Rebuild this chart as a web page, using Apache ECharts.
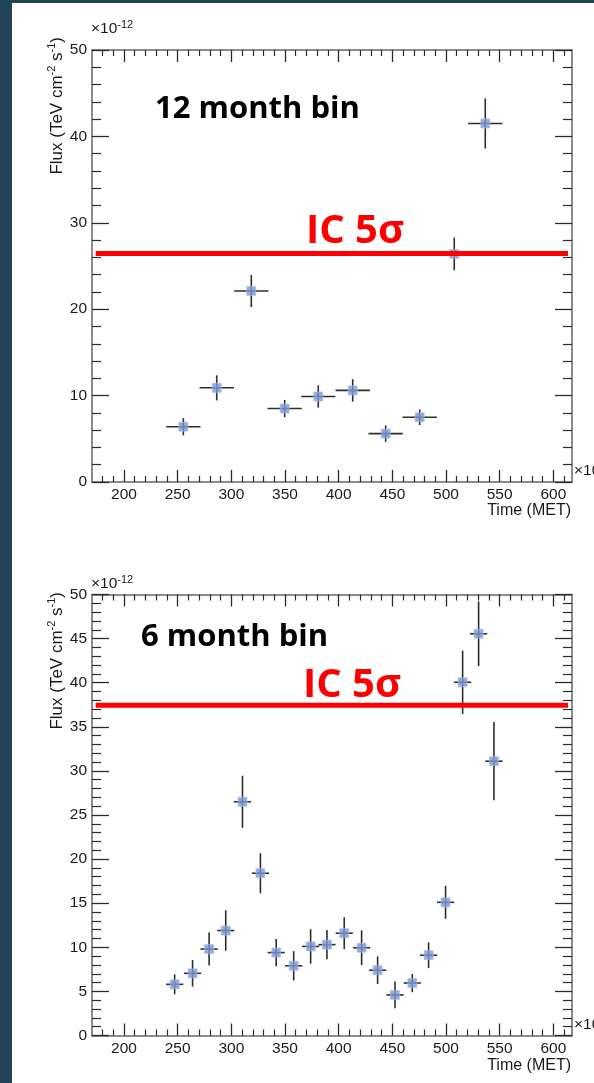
<!DOCTYPE html>
<html>
<head>
<meta charset="utf-8">
<script src="https://cdn.jsdelivr.net/npm/echarts@6/dist/echarts.min.js"></script>
<style>
  html, body { margin: 0; padding: 0; background: #23435a; }
  #sheet { position: absolute; left: 12px; top: 3px; width: 582px; height: 1080px; background: #ffffff; }
  #chart { position: absolute; left: 0; top: 0; width: 594px; height: 1083px; }
</style>
</head>
<body>
<div id="sheet"></div>
<div id="chart"></div>
<script>
// Time axis (MET, units of 1e6 s)
const timeMin = 170.2;
const timeMax = 617.4;
const timeMajorTicks = [200, 250, 300, 350, 400, 450, 500, 550, 600];
const timeMinorTicks = [180, 190, 210, 220, 230, 240, 260, 270, 280, 290, 310, 320, 330, 340,
  360, 370, 380, 390, 410, 420, 430, 440, 460, 470, 480, 490, 510, 520, 530, 540,
  560, 570, 580, 590, 610];

// 12 month binned light curve (flux in units of 1e-12 TeV cm^-2 s^-1)
const yearTime = [255.3, 286.4, 318.6, 349.7, 381.0, 413.1, 443.8, 475.5, 507.7, 536.6];
const yearFlux = [6.4, 10.9, 22.1, 8.5, 9.9, 10.6, 5.6, 7.5, 26.4, 41.5];
const yearFluxErr = [1.0, 1.45, 1.85, 1.0, 1.3, 1.3, 0.95, 0.9, 1.9, 2.9];
const yearHalfBin = 16;

// 6 month binned light curve
const halfTime = [247.2, 263.9, 279.3, 294.8, 310.4, 327.1, 341.8, 358.1, 373.9, 389.1,
  405.2, 421.4, 436.3, 452.5, 468.6, 483.8, 499.6, 515.5, 530.4, 544.7];
const halfFlux = [5.8, 7.05, 9.8, 11.9, 26.5, 18.4, 9.4, 7.9, 10.1, 10.3,
  11.6, 9.95, 7.4, 4.6, 5.95, 9.1, 15.1, 40.05, 45.55, 31.1];
const halfFluxErr = [1.13, 1.5, 1.87, 2.3, 2.95, 2.27, 1.55, 1.66, 1.95, 1.66,
  1.81, 1.98, 1.57, 1.51, 1.04, 1.46, 1.87, 3.59, 3.67, 4.44];
const halfHalfBin = 8;

// IceCube 5 sigma discovery flux for each binning, and the span it is drawn over
const ic5Level = [26.45, 37.44];
const ic5Span = [173.6, 613.7];

const panelTitles = ['12 month bin', '6 month bin'];
const yMax = [50, 50];
const yStep = [10, 5];

const chart = echarts.init(document.getElementById('chart'), null, { renderer: 'canvas' });

const grids = [
  { left: 92, top: 50, width: 480, height: 432, outerBoundsMode: 'none' },
  { left: 92, top: 594.5, width: 480, height: 441, outerBoundsMode: 'none' }
];

const tickColor = '#2b2b2b';
const frameColor = '#666666';
const labelFont = { color: '#1a1a1a', fontFamily: 'Liberation Sans', fontSize: 15.5 };

const xAxes = [];
const yAxes = [];
grids.forEach((g, i) => {
  const base = { gridIndex: i, type: 'value', min: timeMin, max: timeMax, splitLine: { show: false } };
  // bottom, labelled
  xAxes.push(Object.assign({}, base, {
    position: 'bottom',
    axisLine: { show: true, onZero: false, lineStyle: { color: frameColor, width: 1.5 } },
    axisTick: { show: true, inside: true, length: 12, customValues: timeMajorTicks, lineStyle: { color: tickColor, width: 1.3 } },
    axisLabel: Object.assign({ show: true, margin: 5, customValues: timeMajorTicks }, labelFont)
  }));
  xAxes.push(Object.assign({}, base, {
    position: 'bottom',
    axisLine: { show: false, onZero: false },
    axisTick: { show: true, inside: true, length: 6, customValues: timeMinorTicks, lineStyle: { color: tickColor, width: 1.2 } },
    axisLabel: { show: false }
  }));
  // top frame
  xAxes.push(Object.assign({}, base, {
    position: 'top',
    axisLine: { show: true, onZero: false, lineStyle: { color: frameColor, width: 1.5 } },
    axisTick: { show: true, inside: true, length: 12, customValues: timeMajorTicks, lineStyle: { color: tickColor, width: 1.3 } },
    axisLabel: { show: false }
  }));
  xAxes.push(Object.assign({}, base, {
    position: 'top',
    axisLine: { show: false, onZero: false },
    axisTick: { show: true, inside: true, length: 6, customValues: timeMinorTicks, lineStyle: { color: tickColor, width: 1.2 } },
    axisLabel: { show: false }
  }));

  const ybase = {
    gridIndex: i, type: 'value', min: 0, max: yMax[i], interval: yStep[i],
    splitLine: { show: false }, minorSplitLine: { show: false },
    axisLine: { show: true, onZero: false, lineStyle: { color: frameColor, width: 1.5 } },
    axisTick: { show: true, inside: true, length: 17, lineStyle: { color: tickColor, width: 1.3 } },
    minorTick: { show: true, splitNumber: 5, length: 9, lineStyle: { color: tickColor, width: 1.2 } }
  };
  yAxes.push(Object.assign({}, ybase, {
    position: 'left',
    axisLabel: Object.assign({ show: true, margin: 5 }, labelFont)
  }));
  yAxes.push(Object.assign({}, ybase, {
    position: 'right',
    axisLabel: { show: false }
  }));
});

function errorBarItem(params, api) {
  const t = api.value(0), f = api.value(1), e = api.value(2), w = api.value(3);
  const a = api.coord([t - w, f]), b = api.coord([t + w, f]);
  const c = api.coord([t, f - e]), d = api.coord([t, f + e]);
  const st = { stroke: '#2e2e2e', lineWidth: 1.6 };
  return {
    type: 'group',
    children: [
      { type: 'line', shape: { x1: a[0], y1: a[1], x2: b[0], y2: b[1] }, style: st },
      { type: 'line', shape: { x1: c[0], y1: c[1], x2: d[0], y2: d[1] }, style: st }
    ]
  };
}

const curves = [
  { t: yearTime, f: yearFlux, e: yearFluxErr, w: yearHalfBin },
  { t: halfTime, f: halfFlux, e: halfFluxErr, w: halfHalfBin }
];

const series = [];
curves.forEach((c, i) => {
  const xi = i * 4, yi = i * 2;
  series.push({
    type: 'custom', xAxisIndex: xi, yAxisIndex: yi, z: 2,
    renderItem: errorBarItem,
    encode: { x: 0, y: 1 },
    data: c.t.map((t, k) => [t, c.f[k], c.e[k], c.w]),
    silent: true, clip: false
  });
  series.push({
    type: 'scatter', xAxisIndex: xi, yAxisIndex: yi, z: 3,
    symbol: 'rect', symbolSize: 9,
    itemStyle: { color: '#7b99d4', borderColor: '#a9bde6', borderWidth: 0.8 },
    data: c.t.map((t, k) => [t, c.f[k]]),
    silent: true
  });
  series.push({
    type: 'line', xAxisIndex: xi, yAxisIndex: yi, z: 5,
    symbol: 'none', silent: true, animation: false,
    lineStyle: { color: '#ff0000', width: 5, cap: 'butt' },
    data: [[ic5Span[0], ic5Level[i]], [ic5Span[1], ic5Level[i]]]
  });
});

const sansBold = '"Open Sans", sans-serif';
const supRich = {
  n: { fontFamily: 'Liberation Sans', fontSize: 17, lineHeight: 22, fill: '#1a1a1a' },
  s: { fontFamily: 'Liberation Sans', fontSize: 11, lineHeight: 11, verticalAlign: 'top', fill: '#1a1a1a' }
};
const expRich = {
  n: { fontFamily: 'Liberation Sans', fontSize: 15.5, lineHeight: 20, fill: '#1a1a1a' },
  s: { fontFamily: 'Liberation Sans', fontSize: 11, lineHeight: 11, verticalAlign: 'top', fill: '#1a1a1a' }
};

// per-panel text anchors (top edges): [titleX, titleTop, icX, icTop, yTitleTop, expBottom, timeTop, x10Bottom]
const deco = [
  [155, 94, 306, 212, 37, 39, 503, 481],
  [141, 622, 303, 666, 592, 594, 1058, 1035]
];

const graphics = [];
deco.forEach((d, i) => {
  graphics.push({
    type: 'text', x: d[0], y: d[1], silent: true,
    style: { text: panelTitles[i], fontFamily: sansBold, fontWeight: 'bold', fontSize: 31, fill: '#000000', align: 'left', verticalAlign: 'top' }
  });
  graphics.push({
    type: 'text', x: d[2], y: d[3], silent: true,
    style: { text: 'IC 5σ', fontFamily: sansBold, fontWeight: 'bold', fontSize: 40, fill: '#ff0000', align: 'left', verticalAlign: 'top' }
  });
  graphics.push({
    type: 'text', x: 57, y: d[4], rotation: Math.PI / 2, silent: true,
    style: { text: '{n|Flux (TeV cm}{s|-2}{n| s}{s|-1}{n|)}', rich: supRich, align: 'right', verticalAlign: 'middle' }
  });
  graphics.push({
    type: 'text', x: 91, y: d[5], silent: true,
    style: { text: '{n|×10}{s|-12}', rich: expRich, align: 'left', verticalAlign: 'bottom' }
  });
  graphics.push({
    type: 'text', x: 571, y: d[6], silent: true,
    style: { text: 'Time (MET)', fontFamily: 'Liberation Sans', fontSize: 16, fill: '#1a1a1a', align: 'right', verticalAlign: 'top' }
  });
  graphics.push({
    type: 'text', x: 574, y: d[7], silent: true,
    style: { text: '{n|×10}{s|6}', rich: expRich, align: 'left', verticalAlign: 'bottom' }
  });
});

chart.setOption({
  backgroundColor: 'transparent',
  animation: false,
  grid: grids,
  xAxis: xAxes,
  yAxis: yAxes,
  series: series,
  graphic: { elements: graphics }
});
</script>
</body>
</html>
